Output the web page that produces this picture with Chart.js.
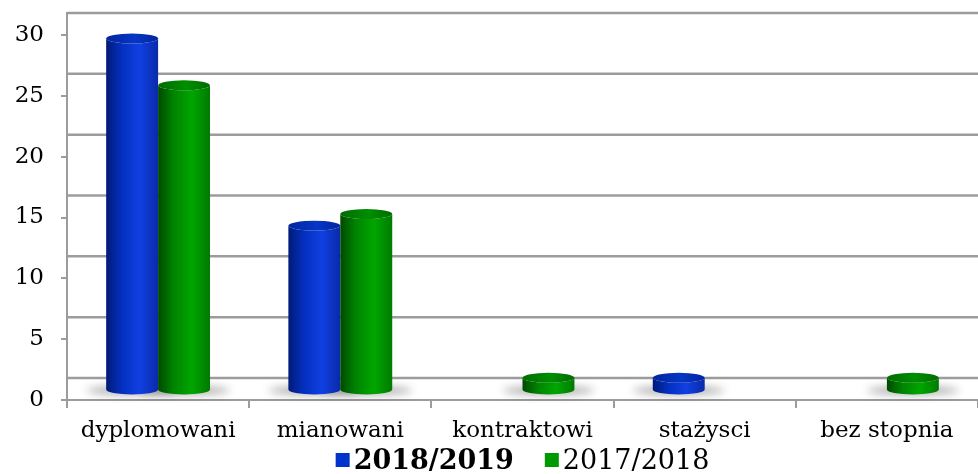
<!DOCTYPE html>
<html>
<head>
<meta charset="utf-8">
<script src="https://cdn.jsdelivr.net/npm/chart.js@4.4.1/dist/chart.umd.min.js"></script>
<style>
html, body { margin: 0; padding: 0; background: #fff; }
canvas { display: block; }
</style>
</head>
<body>
<canvas id="chart" width="978" height="474"></canvas>
<script>
const categories = ['dyplomowani', 'mianowani', 'kontraktowi', 'stażysci', 'bez stopnia'];
const series2018 = [30, 14, 0, 1, 0];
const series2017 = [26, 15, 1, 0, 1];
const yTicks = [0, 5, 10, 15, 20, 25, 30];

const fontFamily = "'DejaVu Serif', serif";
const gridColor = '#9c9c9c';

// shading for the cylinders
const blueShade = { edge: '#001a78', mid: '#0430bf', light: '#1040e2', dark: '#0a2aa8', topEdge: '#0226a0', top: '#0636c4', solid: '#0033cc' };
const greenShade = { edge: '#004a00', mid: '#008400', light: '#00a600', dark: '#007a00', topEdge: '#006c00', top: '#008e00', solid: '#009900' };

function drawCylinder(ctx, el, c) {
    var w = el.width, x0 = el.x - w / 2, top = el.y, base = el.base, ry = 5;
    if (base - top < 0.5) return;
    var g = ctx.createLinearGradient(x0, 0, x0 + w, 0);
    g.addColorStop(0, c.edge);
    g.addColorStop(0.3, c.mid);
    g.addColorStop(0.65, c.light);
    g.addColorStop(1, c.dark);
    ctx.fillStyle = g;
    ctx.beginPath();
    ctx.moveTo(x0, top);
    ctx.lineTo(x0, base);
    ctx.ellipse(el.x, base, w / 2, ry, 0, Math.PI, 0, true);
    ctx.lineTo(x0 + w, top);
    ctx.ellipse(el.x, top, w / 2, ry, 0, 0, Math.PI, false);
    ctx.closePath();
    ctx.fill();

    var tg = ctx.createLinearGradient(x0, 0, x0 + w, 0);
    tg.addColorStop(0, c.topEdge);
    tg.addColorStop(0.55, c.top);
    tg.addColorStop(1, c.topEdge);
    ctx.fillStyle = tg;
    ctx.beginPath();
    ctx.ellipse(el.x, top, w / 2, ry, 0, 0, Math.PI * 2);
    ctx.fill();
}

const wallPlugin = {
    id: 'wall',
    beforeDatasetsDraw: function (chart) {
        var ctx = chart.ctx, y = chart.scales.y, x = chart.scales.x;
        ctx.save();
        ctx.strokeStyle = gridColor;
        ctx.lineWidth = 2.5;
        y.ticks.forEach(function (t) {
            var py = y.getPixelForValue(t.value) - 22;
            ctx.beginPath();
            ctx.moveTo(x.left, py);
            ctx.lineTo(chart.width, py);
            ctx.stroke();
        });
        // y axis line goes up to the back wall
        ctx.lineWidth = 2;
        ctx.beginPath();
        ctx.moveTo(x.left, y.getPixelForValue(30) - 23);
        ctx.lineTo(x.left, y.bottom);
        ctx.stroke();
        ctx.restore();
    },
    afterDatasetsDraw: function (chart) {
        var ctx = chart.ctx;
        var shades = [blueShade, greenShade];
        ctx.save();
        chart.data.datasets.forEach(function (ds, i) {
            chart.getDatasetMeta(i).data.forEach(function (el) {
                if (el.base - el.y < 0.5) return;
                ctx.save();
                ctx.filter = 'blur(4px)';
                ctx.fillStyle = 'rgba(0,0,0,0.35)';
                ctx.beginPath();
                ctx.ellipse(el.x, el.base + 1, el.width / 2 + 20, 4, 0, 0, Math.PI * 2);
                ctx.fill();
                ctx.restore();
            });
        });
        chart.data.datasets.forEach(function (ds, i) {
            chart.getDatasetMeta(i).data.forEach(function (el) {
                drawCylinder(ctx, el, shades[i]);
            });
        });
        ctx.restore();
    },
    afterDraw: function (chart) {
        var ctx = chart.ctx, area = chart.chartArea;
        var sq = 14, gap = 4, spacing = 31, size = 27;
        var items = chart.data.datasets.map(function (ds, i) {
            var font = (i == 0 ? 'bold ' : '') + size + 'px ' + fontFamily;
            ctx.font = font;
            return { text: ds.label, font: font, color: ds.legendColor, w: ctx.measureText(ds.label).width };
        });
        var total = 0;
        items.forEach(function (it, i) { total += sq + gap + it.w + (i ? spacing : 0); });
        var cx = (area.left + area.right) / 2;
        var px = cx - total / 2;
        var baseY = 469;
        ctx.save();
        ctx.textBaseline = 'alphabetic';
        ctx.textAlign = 'left';
        items.forEach(function (it) {
            ctx.fillStyle = it.color;
            ctx.fillRect(px, baseY - 16, sq, sq);
            px += sq + gap;
            ctx.font = it.font;
            ctx.fillStyle = '#000';
            ctx.fillText(it.text, px, baseY);
            px += it.w + spacing;
        });
        ctx.restore();
    }
};

var ctx = document.getElementById('chart').getContext('2d');

var chart = new Chart(ctx, {
    type: 'bar',
    data: {
        labels: categories,
        datasets: [{
            label: '2018/2019',
            data: series2018,
            yAxisID: 'y2',
            backgroundColor: 'rgba(0,0,0,0)',
            legendColor: blueShade.solid,
            categoryPercentage: 0.57,
            barPercentage: 1
        }, {
            label: '2017/2018',
            data: series2017,
            yAxisID: 'y2',
            backgroundColor: 'rgba(0,0,0,0)',
            legendColor: greenShade.solid,
            categoryPercentage: 0.57,
            barPercentage: 1
        }]
    },
    options: {
        responsive: false,
        animation: false,
        layout: { padding: { top: 35, right: 0, left: 0, bottom: 0 } },
        plugins: {
            legend: { display: false },
            tooltip: { enabled: false }
        },
        scales: {
            x: {
                grid: { drawOnChartArea: false, tickLength: 8, color: gridColor, lineWidth: 2 },
                border: { color: gridColor, width: 2 },
                ticks: { color: '#000', padding: 9, font: { family: fontFamily, size: 23 } },
                afterFit: function (scale) { scale.height = 74; }
            },
            y: {
                min: 0,
                max: 30,
                afterBuildTicks: function (scale) {
                    scale.ticks = yTicks.map(function (v) { return { value: v }; });
                },
                grid: { drawOnChartArea: false, tickLength: 6, color: gridColor, lineWidth: 2 },
                border: { color: gridColor, width: 2 },
                ticks: { color: '#000', padding: 17, font: { family: fontFamily, size: 23 } },
                afterFit: function (scale) { scale.width = 67; }
            },
            y2: {
                display: false,
                min: -0.897,
                max: 30.3
            }
        }
    },
    plugins: [wallPlugin]
});
</script>
</body>
</html>
